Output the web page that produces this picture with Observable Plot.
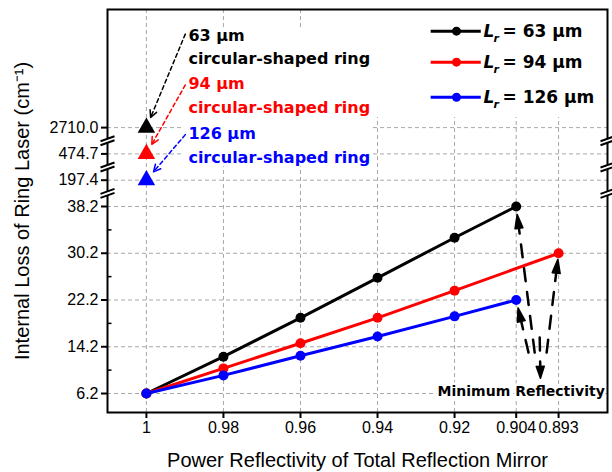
<!DOCTYPE html>
<html>
<head>
<meta charset="utf-8">
<script src="https://cdn.jsdelivr.net/npm/d3@7"></script>
<script src="https://cdn.jsdelivr.net/npm/@observablehq/plot@0.6"></script>
<style>
  html, body { margin: 0; padding: 0; background: #fff; }
</style>
</head>
<body>
<div id="chart"></div>
<script>
// ---------------- data ----------------
const xTicks = [1, 0.98, 0.96, 0.94, 0.92, 0.904, 0.893];
const xTickLabels = ["1", "0.98", "0.96", "0.94", "0.92", "0.904", "0.893"];
const yTicks = [6.2, 14.2, 22.2, 30.2, 38.2, 197.4, 474.7, 2710.0];
const yTickLabels = ["6.2", "14.2", "22.2", "30.2", "38.2", "197.4", "474.7", "2710.0"];
const yMinorTicks = [10.2, 18.2, 26.2, 34.2];

const seriesNames = ["63", "94", "126"];
const seriesColors = ["#000000", "#ff0000", "#0000ff"];
const reflect63 = [1, 0.98, 0.96, 0.94, 0.92, 0.904];
const loss63 = [6.2, 12.5, 19.15, 26.0, 32.85, 38.2];
const reflect94 = [1, 0.98, 0.96, 0.94, 0.92, 0.893];
const loss94 = [6.2, 10.5, 14.8, 19.15, 23.8, 30.2];
const reflect126 = [1, 0.98, 0.96, 0.94, 0.92, 0.904];
const loss126 = [6.2, 9.3, 12.65, 15.95, 19.4, 22.2];

// circular-shaped ring references
const circularLabels = ["63 µm", "94 µm", "126 µm"];
const circularReflect = [1, 1, 1];
const circularLoss = [2710.0, 474.7, 197.4];

// ---------------- layout ----------------
const WIDTH = 612, HEIGHT = 472;
const M = {left: 107, right: 5, top: 9, bottom: 60};
const X_DOMAIN = [1.0101, 0.8803];
const Y_DOMAIN = [2.95, 71.91];      // broken-axis display units
const LAST_LINEAR = 38.2, BREAK_SLOT = 4.5;

// broken y axis: linear up to 38.2, then one slot per upper tick
const firstUpper = yTicks.findIndex(v => v > LAST_LINEAR);
const displayTicks = yTicks.map((v, i) => v <= LAST_LINEAR ? v : LAST_LINEAR + BREAK_SLOT * (i - firstUpper + 1));
const brk = d3.scaleLinear().domain(yTicks).range(displayTicks);
const breakPositions = d3.pairs(displayTicks).filter(([a]) => a >= LAST_LINEAR).map(([a, b]) => (a + b) / 2);

const seriesX = [reflect63, reflect94, reflect126];
const seriesY = [loss63, loss94, loss126];
const rows = seriesNames.flatMap((name, s) =>
  seriesX[s].map((x, i) => ({series: name, color: seriesColors[s], x, y: seriesY[s][i]})));
const circularRows = circularLabels.map((label, i) =>
  ({label, color: seriesColors[i], x: circularReflect[i], y: brk(circularLoss[i])}));

// annotation anchors (data units; y in broken-axis display units)
const noteX = 0.9891;
const noteLine1Y = [67.46, 59.25, 50.69];
const noteLine2Y = [63.52, 55.14, 46.58];
const noteArrowX = 0.9899;
const noteArrowY = [67.7, 59.0, 50.5];

const bgX1 = [0.99013, 0.94104], bgX2 = [0.94104, X_DOMAIN[1]];
const bgY1 = [45.0, 53.43], bgY2 = [68.83, Y_DOMAIN[1]];

const legendY = [68.2, 62.9, 56.9];
const legendLineX = [0.9262, 0.9132];
const legendDotX = 0.9195;
const legendTextX = 0.9125;

const minTargetX = [0.904, 0.904, 0.893];
const minTargetY = [38.2, 22.2, 30.2];
const minTargetInset = [8, 8, 6];
const minStartX = [0.8992, 0.9008, 0.8961];
const minStartY = [13.2, 13.2, 13.2];
const downArrowX = [0.8979, 0.8977];
const downArrowY = [15.8, 8.8];
const minTextX = 0.9027, minTextY = 6.54;

// ---------------- arrow geometry through Plot's scales ----------------
const sx = Plot.scale({x: {domain: X_DOMAIN, range: [M.left, WIDTH - M.right]}});
const sy = Plot.scale({y: {domain: Y_DOMAIN, range: [HEIGHT - M.bottom, M.top]}});
function arrowGeom(x1, y1, x2, y2, inset, headLen, headHalf, color) {
  const p0 = [sx.apply(x1), sy.apply(y1)], p1 = [sx.apply(x2), sy.apply(y2)];
  const dx = p1[0] - p0[0], dy = p1[1] - p0[1], L = Math.hypot(dx, dy);
  const ux = dx / L, uy = dy / L, nx = -uy, ny = ux;
  const tip = [p1[0] - inset * ux, p1[1] - inset * uy];
  const base = [tip[0] - headLen * ux, tip[1] - headLen * uy];
  const inv = ([px, py]) => ({x: sx.invert(px), y: sy.invert(py), color});
  return {
    shaft: [inv(p0), inv(tip)],
    head: [inv([base[0] + headHalf * nx, base[1] + headHalf * ny]), inv(tip),
           inv([base[0] - headHalf * nx, base[1] - headHalf * ny])]
  };
}
const noteArrows = circularRows.map((d, i) =>
  ({id: "n" + i, ...arrowGeom(noteArrowX, noteArrowY[i], d.x, d.y, 11, 7, 3.5, d.color)}));
const minArrows = minTargetX.map((x, i) =>
  ({id: "m" + i, ...arrowGeom(minStartX[i], minStartY[i], x, minTargetY[i], minTargetInset[i], 14, 4, "#000")}));
minArrows.push({id: "down", ...arrowGeom(downArrowX[0], downArrowY[0], downArrowX[1], downArrowY[1], 0, 12, 4, "#000")});

const flat = (arr, key) => arr.flatMap(a => a[key].map(p => ({...p, id: a.id})));
const closed = (arr) => arr.flatMap(a => [...a.head, a.head[0]].map(p => ({...p, id: a.id})));

// ---------------- custom symbols ----------------
const breakGapSymbol = {draw(c) { c.moveTo(-3.5, -2.3); c.lineTo(3.5, -2.3); c.lineTo(3.5, 2.3); c.lineTo(-3.5, 2.3); c.closePath(); }};
const breakSlashSymbol = {draw(c) { c.moveTo(-7, 0.5); c.lineTo(7, -4.5); c.moveTo(-7, 4.5); c.lineTo(7, -0.5); }};
const minorTickSymbol = {draw(c) { c.moveTo(0, 0); c.lineTo(4, 0); }};

const BOLD = "'DejaVu Sans', sans-serif";
const GRID = {stroke: "#a8a8a8", strokeDasharray: "4,3", strokeWidth: 1};

const plot = Plot.plot({
  width: WIDTH, height: HEIGHT,
  marginLeft: M.left, marginRight: M.right, marginTop: M.top, marginBottom: M.bottom,
  style: {fontFamily: "'Liberation Sans', Arial, sans-serif", background: "#fff", color: "#000"},
  x: {domain: X_DOMAIN, label: null},
  y: {domain: Y_DOMAIN, label: null},
  color: {type: "identity"},
  marks: [
    Plot.ruleX(xTicks, {x: d => d, ...GRID}),
    Plot.ruleY(displayTicks, {y: d => d, ...GRID}),
    Plot.rect([0, 1], {x1: i => bgX1[i], x2: i => bgX2[i], y1: i => bgY1[i], y2: i => bgY2[i], fill: "#fff"}),

    // series
    Plot.line(rows, {x: "x", y: "y", z: "series", stroke: "color", strokeWidth: 3}),
    Plot.dot(rows, {x: "x", y: "y", fill: "color", r: 5}),
    Plot.dot(circularRows, {x: "x", y: "y", fill: "color", symbol: "triangle", r: 6.5}),

    // circular-shaped ring notes
    Plot.line(flat(noteArrows, "shaft"), {x: "x", y: "y", z: "id", stroke: "color", strokeWidth: 1.5, strokeDasharray: "4,3"}),
    Plot.line(flat(noteArrows, "head"), {x: "x", y: "y", z: "id", stroke: "color", strokeWidth: 1.5}),
    Plot.text(circularRows, {x: () => noteX, y: (d, i) => noteLine1Y[i], text: "label", fill: "color",
      textAnchor: "start", lineAnchor: "middle", fontFamily: BOLD, fontWeight: "bold", fontSize: 16}),
    Plot.text(circularRows, {x: () => noteX, y: (d, i) => noteLine2Y[i], text: () => "circular-shaped ring", fill: "color",
      textAnchor: "start", lineAnchor: "middle", fontFamily: BOLD, fontWeight: "bold", fontSize: 16}),

    // legend
    Plot.link(seriesNames, {x1: () => legendLineX[0], x2: () => legendLineX[1], y1: (d, i) => legendY[i], y2: (d, i) => legendY[i],
      stroke: (d, i) => seriesColors[i], strokeWidth: 3}),
    Plot.dot(seriesNames, {x: () => legendDotX, y: (d, i) => legendY[i], fill: (d, i) => seriesColors[i], r: 4.5}),
    Plot.text(seriesNames, {x: () => legendTextX, y: (d, i) => legendY[i], text: () => "L", textAnchor: "start", lineAnchor: "middle",
      fontFamily: BOLD, fontWeight: "bold", fontStyle: "italic", fontSize: 17}),
    Plot.text(seriesNames, {x: () => legendTextX, y: (d, i) => legendY[i], text: () => "r", textAnchor: "start", lineAnchor: "middle",
      dx: 10, dy: 7, fontFamily: BOLD, fontWeight: "bold", fontStyle: "italic", fontSize: 11}),
    Plot.text(seriesNames, {x: () => legendTextX, y: (d, i) => legendY[i], text: d => `= ${d} µm`, textAnchor: "start", lineAnchor: "middle",
      dx: 19, fontFamily: BOLD, fontWeight: "bold", fontSize: 17}),

    // minimum reflectivity arrows
    Plot.line(flat(minArrows, "shaft"), {x: "x", y: "y", z: "id", stroke: "#000", strokeWidth: 2.5, strokeDasharray: "13,11"}),
    Plot.line(closed(minArrows), {x: "x", y: "y", z: "id", stroke: "#000", fill: "#000", strokeWidth: 1.5}),
    Plot.text(["Minimum Reflectivity"], {x: () => minTextX, y: () => minTextY, text: d => d, textAnchor: "middle", lineAnchor: "middle",
      fontFamily: BOLD, fontWeight: "bold", fontSize: 14, stroke: "#fff", strokeWidth: 5, fill: "#000"}),

    // frame, breaks, minor ticks
    Plot.frame({stroke: "#000", strokeWidth: 2}),
    Plot.dot(yMinorTicks, {y: d => brk(d), frameAnchor: "left", symbol: minorTickSymbol, stroke: "#000", fill: "none", strokeWidth: 1.5}),
    Plot.dot(breakPositions, {y: d => d, frameAnchor: "left", symbol: breakGapSymbol, fill: "#fff", stroke: "none"}),
    Plot.dot(breakPositions, {y: d => d, frameAnchor: "left", symbol: breakSlashSymbol, fill: "none", stroke: "#000", strokeWidth: 2}),
    Plot.dot(breakPositions, {y: d => d, frameAnchor: "right", symbol: breakGapSymbol, fill: "#fff", stroke: "none"}),
    Plot.dot(breakPositions, {y: d => d, frameAnchor: "right", symbol: breakSlashSymbol, fill: "none", stroke: "#000", strokeWidth: 2}),

    // axes
    Plot.axisX(xTicks, {tickFormat: d => xTickLabels[xTicks.indexOf(d)], tickSize: 6, tickPadding: 3, fontSize: 16, strokeWidth: 2, label: null}),
    Plot.axisY(displayTicks, {tickFormat: d => yTickLabels[displayTicks.indexOf(d)], tickSize: 6, tickPadding: 3, fontSize: 16, strokeWidth: 2, label: null}),
    Plot.text(["Power Reflectivity of Total Reflection Mirror"], {frameAnchor: "bottom", dy: 48, text: d => d,
      textAnchor: "middle", lineAnchor: "middle", fontSize: 20}),
    Plot.text(["Internal Loss of Ring Laser (cm⁻¹)"], {frameAnchor: "left", dx: -85, rotate: -90, text: d => d,
      textAnchor: "middle", lineAnchor: "middle", fontSize: 20})
  ]
});
document.getElementById("chart").append(plot);
</script>
</body>
</html>
